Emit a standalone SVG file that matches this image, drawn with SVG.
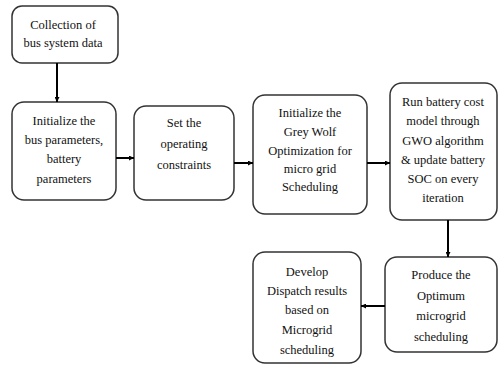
<svg xmlns="http://www.w3.org/2000/svg" width="499" height="368" viewBox="0 0 499 368">
<defs>
<marker id="ah" viewBox="0 0 10 10" refX="10" refY="5" markerWidth="5" markerHeight="5" orient="auto" markerUnits="userSpaceOnUse">
<path d="M0,0 L10,5 L0,10 z" fill="#000"/>
</marker>
</defs>
<rect width="499" height="368" fill="#fff"/>
<g id="n1">
<rect x="12" y="6" width="106" height="57" rx="10" fill="#fff" stroke="#333" stroke-width="1.5"/>
<text x="63" y="29" style="font-family:'Liberation Serif',serif;font-size:12.5px" text-anchor="middle" fill="#111">Collection of</text>
<text x="63" y="47" style="font-family:'Liberation Serif',serif;font-size:12.5px" text-anchor="middle" fill="#111">bus system data</text>
</g>
<g id="n2" text-anchor="middle" fill="#111">
<rect x="12" y="102" width="104" height="98" rx="12" fill="#fff" stroke="#333" stroke-width="1.5"/>
<text x="64" y="125" style="font-family:'Liberation Serif',serif;font-size:12.5px">Initialize the</text>
<text x="64" y="144" style="font-family:'Liberation Serif',serif;font-size:12.5px">bus parameters,</text>
<text x="64" y="163" style="font-family:'Liberation Serif',serif;font-size:12.5px">battery</text>
<text x="64" y="183" style="font-family:'Liberation Serif',serif;font-size:12.5px">parameters</text>
</g>
<g id="n3" text-anchor="middle" fill="#111">
<rect x="134" y="106" width="100" height="94" rx="12" fill="#fff" stroke="#333" stroke-width="1.5"/>
<text x="184" y="127" style="font-family:'Liberation Serif',serif;font-size:12.5px">Set the</text>
<text x="184" y="148" style="font-family:'Liberation Serif',serif;font-size:12.5px">operating</text>
<text x="184" y="169" style="font-family:'Liberation Serif',serif;font-size:12.5px">constraints</text>
</g>
<g id="n4" text-anchor="middle" fill="#111">
<rect x="253" y="95" width="114" height="119" rx="12" fill="#fff" stroke="#333" stroke-width="1.5"/>
<text x="310" y="117" style="font-family:'Liberation Serif',serif;font-size:12.5px">Initialize the</text>
<text x="310" y="136" style="font-family:'Liberation Serif',serif;font-size:12.5px">Grey Wolf</text>
<text x="310" y="155" style="font-family:'Liberation Serif',serif;font-size:12.5px">Optimization for</text>
<text x="310" y="173" style="font-family:'Liberation Serif',serif;font-size:12.5px">micro grid</text>
<text x="310" y="191" style="font-family:'Liberation Serif',serif;font-size:12.5px">Scheduling</text>
</g>
<g id="n5" text-anchor="middle" fill="#111">
<rect x="390" y="83" width="107" height="137" rx="12" fill="#fff" stroke="#333" stroke-width="1.5"/>
<text x="443" y="106" style="font-family:'Liberation Serif',serif;font-size:12.5px">Run battery cost</text>
<text x="443" y="125" style="font-family:'Liberation Serif',serif;font-size:12.5px">model through</text>
<text x="443" y="145" style="font-family:'Liberation Serif',serif;font-size:12.5px">GWO algorithm</text>
<text x="443" y="164" style="font-family:'Liberation Serif',serif;font-size:12.5px">&amp; update battery</text>
<text x="443" y="183" style="font-family:'Liberation Serif',serif;font-size:12.5px">SOC on every</text>
<text x="443" y="202" style="font-family:'Liberation Serif',serif;font-size:12.5px">iteration</text>
</g>
<g id="n6" text-anchor="middle" fill="#111">
<rect x="385" y="257" width="112" height="95" rx="12" fill="#fff" stroke="#333" stroke-width="1.5"/>
<text x="441" y="279" style="font-family:'Liberation Serif',serif;font-size:12.5px">Produce the</text>
<text x="441" y="300" style="font-family:'Liberation Serif',serif;font-size:12.5px">Optimum</text>
<text x="441" y="320" style="font-family:'Liberation Serif',serif;font-size:12.5px">microgrid</text>
<text x="441" y="341" style="font-family:'Liberation Serif',serif;font-size:12.5px">scheduling</text>
</g>
<g id="n7" text-anchor="middle" fill="#111">
<rect x="253" y="252" width="108" height="111" rx="12" fill="#fff" stroke="#333" stroke-width="1.5"/>
<text x="307" y="276" style="font-family:'Liberation Serif',serif;font-size:12.5px">Develop</text>
<text x="307" y="295" style="font-family:'Liberation Serif',serif;font-size:12.5px">Dispatch results</text>
<text x="307" y="314" style="font-family:'Liberation Serif',serif;font-size:12.5px">based on</text>
<text x="307" y="334" style="font-family:'Liberation Serif',serif;font-size:12.5px">Microgrid</text>
<text x="307" y="354" style="font-family:'Liberation Serif',serif;font-size:12.5px">scheduling</text>
</g>
<g id="connectors" stroke="#000" stroke-width="2" fill="none" marker-end="url(#ah)">
<line x1="57" y1="63" x2="57" y2="102"/>
<line x1="116" y1="158" x2="134" y2="158"/>
<line x1="234" y1="163" x2="253" y2="163"/>
<line x1="367" y1="163" x2="390" y2="163"/>
<line x1="448" y1="220" x2="448" y2="257"/>
<line x1="385" y1="306" x2="361" y2="306"/>
</g>
</svg>
